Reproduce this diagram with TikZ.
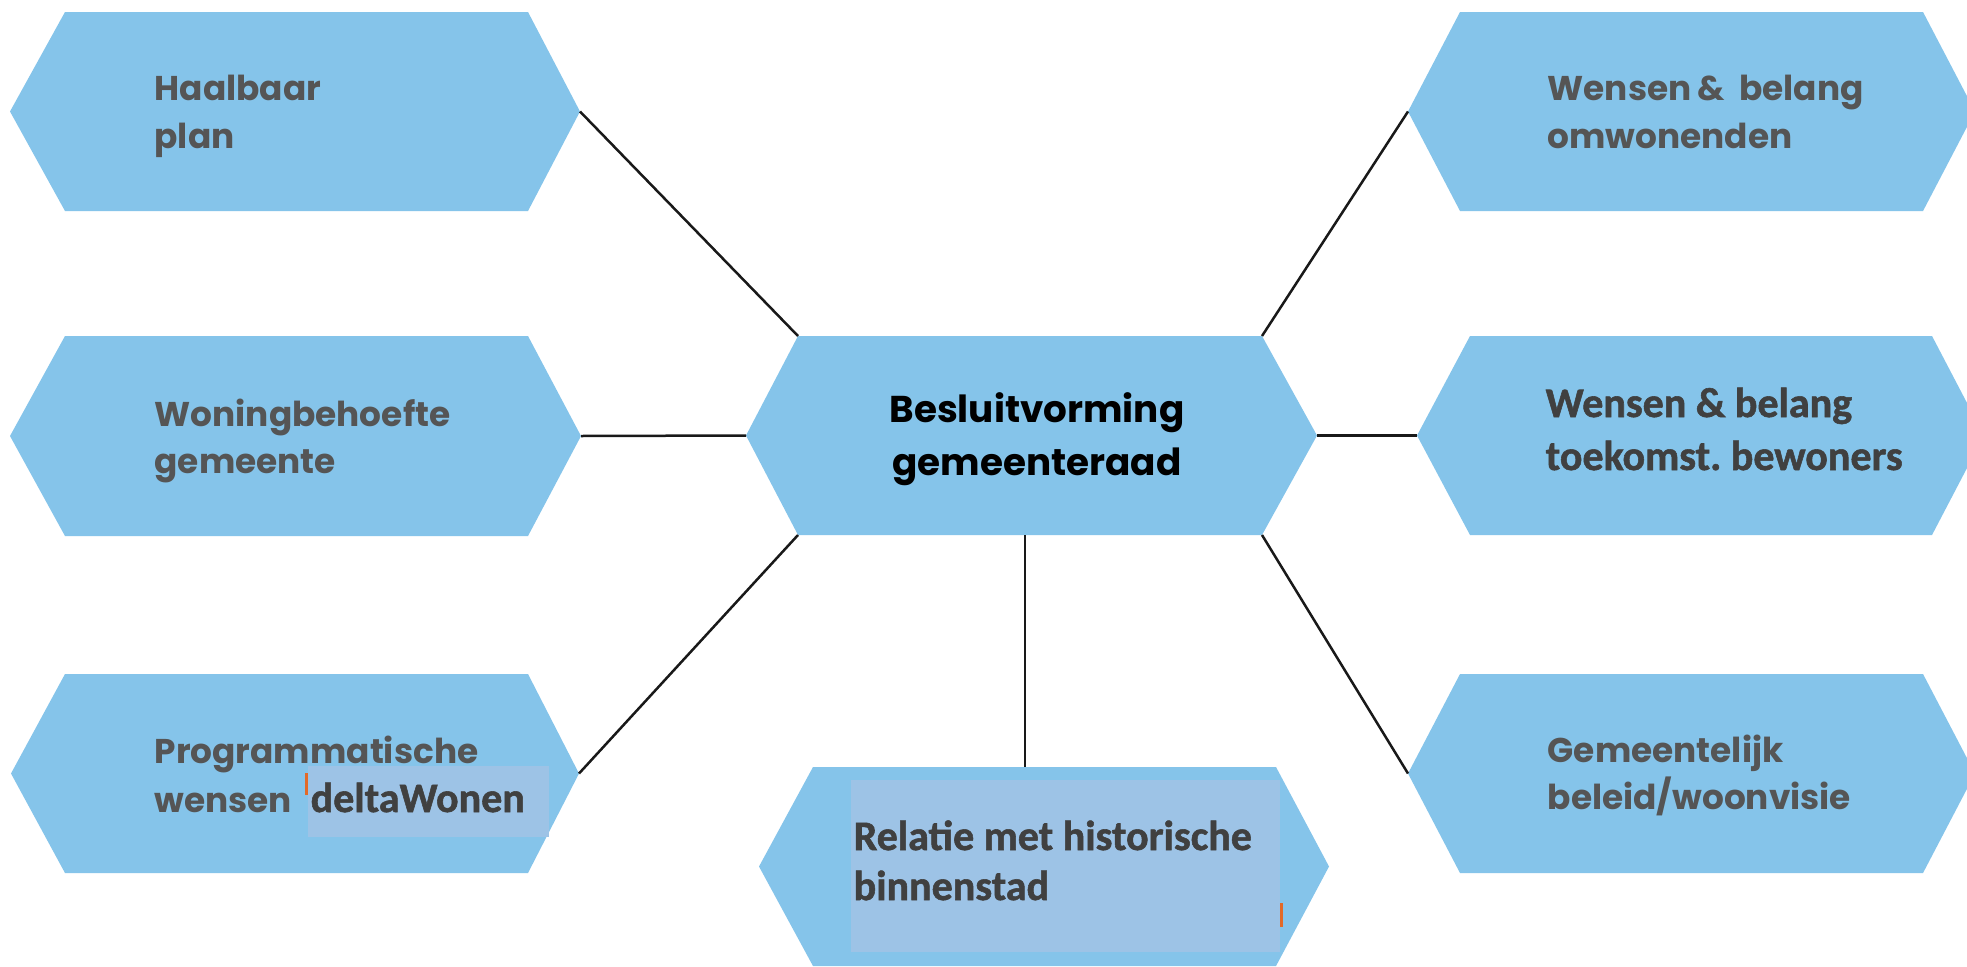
\documentclass[tikz,border=0pt]{standalone}
\usepackage{fontspec}
\newfontfamily\hexfont{Poppins}
\newfontfamily\calfont{Carlito}[BoldFont={Carlito Bold},BoldFeatures={FakeBold=1.3}]
\usetikzlibrary{calc}
\definecolor{hexblue}{RGB}{133,196,234}
\definecolor{ovblue}{RGB}{157,195,230}
\definecolor{textgray}{RGB}{85,85,85}
\definecolor{caltext}{RGB}{64,64,64}
\definecolor{tickorange}{RGB}{226,106,40}
\frenchspacing
\newcommand{\hexat}[7]{%
  \coordinate (#1-W) at (#2,{(#6+#7)/2});
  \coordinate (#1-NW) at (#3,#6);
  \coordinate (#1-NE) at (#4,#6);
  \coordinate (#1-E) at (#5,{(#6+#7)/2});
  \coordinate (#1-SE) at (#4,#7);
  \coordinate (#1-SW) at (#3,#7);
  \fill[hexblue] (#1-W) -- (#1-NW) -- (#1-NE) -- (#1-E) -- (#1-SE) -- (#1-SW) -- cycle;
}
\tikzset{
  lbl/.style={anchor=base west, inner sep=0pt, text=textgray, font=\hexfont\bfseries\fontsize{10.3}{12}\selectfont},
  ctr/.style={anchor=base, inner sep=0pt, text=black, font=\hexfont\bfseries\fontsize{11.2}{13}\selectfont},
  cal/.style={anchor=base west, inner sep=0pt, text=caltext, font=\calfont\bfseries\fontsize{12.6}{14}\selectfont},
  conn/.style={draw=black!90, line width=0.75pt},
}
\begin{document}
\begin{tikzpicture}[x=0.3pt,y=-0.3pt]
\fill[white] (0,0) rectangle (1967,966);
\useasboundingbox (0,0) rectangle (1967,966);
% hexagons
\hexat{haal}{10}{65}{528}{580}{12}{211}
\hexat{won}{10}{65}{528}{581}{336}{536}
\hexat{prog}{11}{65}{528}{579}{674}{873}
\hexat{cen}{746}{798}{1262}{1317}{336}{535}
\hexat{rel}{759}{813}{1276}{1329}{767}{966}
\hexat{omw}{1408}{1460}{1923}{1975}{12}{211}
\hexat{toek}{1417}{1470}{1932}{1984}{336}{535}
\hexat{gem}{1408}{1460}{1923}{1975}{674}{873}
% overlays
\fill[ovblue] (308,766) rectangle (549,837);
\fill[tickorange] (305,773) rectangle (308,795);
\fill[ovblue] (851,780) rectangle (1280,952);
\fill[tickorange] (1280,903) rectangle (1283,927);
% connectors
\draw[conn] (haal-E) -- (cen-NW);
\draw[conn] (won-E) -- (cen-W);
\draw[conn] (prog-E) -- (cen-SW);
\draw[conn] (cen-NE) -- (omw-W);
\draw[conn] (cen-E) -- (toek-W);
\draw[conn] (cen-SE) -- (gem-W);
\coordinate (cenB) at (1025,535);
\coordinate (relT) at (1025,767);
\draw[conn] (cenB) -- (relT);
% texts
\node[lbl] (t-haal1) at (154,100) {Haalbaar};
\node[lbl] (t-haal2) at (154,148) {plan};
\node[lbl] (t-won1) at (154,426) {Woningbehoefte};
\node[lbl] (t-won2) at (154,473) {gemeente};
\node[lbl] (t-prog1) at (154,763) {Programmatische};
\node[lbl] (t-prog2) at (154,812) {wensen};
\node[cal] (t-delta) at (310,812) {deltaWonen};
\node[ctr] (t-cen1) at (1037,422) {Besluitvorming};
\node[ctr] (t-cen2) at (1037,475) {gemeenteraad};
\node[cal] (t-rel1) at (853,850) {Relatie met historische};
\node[cal] (t-rel2) at (853,900) {binnenstad};
\node[lbl] (t-omw1) at (1547,100) {Wensen\,\& \ belang};
\node[lbl] (t-omw2) at (1547,148) {omwonenden};
\node[cal] (t-toek1) at (1545,417) {Wensen \& belang};
\node[cal] (t-toek2) at (1545,470) {toekomst.\ bewoners};
\node[lbl] (t-gem1) at (1547,762) {Gemeentelijk};
\node[lbl] (t-gem2) at (1547,809) {beleid/woonvisie};
\end{tikzpicture}
\end{document}
